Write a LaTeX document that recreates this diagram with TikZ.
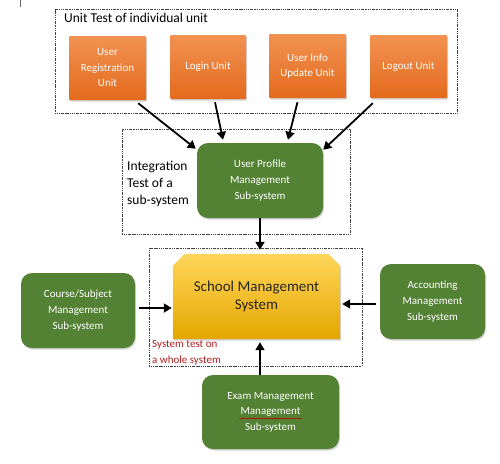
\documentclass[tikz,border=0pt]{standalone}
\usepackage{fontspec}
\setmainfont{Carlito}
\usetikzlibrary{shadows,calc,arrows.meta,decorations.pathmorphing,backgrounds}
\definecolor{grn}{RGB}{84,130,53}
\definecolor{orT}{RGB}{242,146,82}
\definecolor{orB}{RGB}{228,106,28}
\definecolor{yeT}{RGB}{255,214,90}
\definecolor{yeM}{RGB}{255,192,0}
\definecolor{yeB}{RGB}{228,166,0}
\definecolor{redtxt}{RGB}{175,32,32}
\begin{document}
\begin{tikzpicture}[x=1pt,y=-1pt,
  frame/.style={draw=black!75, line width=0.6pt, dash pattern=on 1.4pt off 0.9pt on 0.5pt off 0.9pt, minimum width=#1},
  unitbox/.style={rounded corners=1pt, top color=orT, bottom color=orB, draw=none,
     text=white, align=center, font=\fontsize{11}{15.5}\selectfont, inner sep=0pt,
     minimum width=77pt, minimum height=64pt,
     drop shadow={opacity=0.35, shadow xshift=1pt, shadow yshift=-1.5pt}},
  subbox/.style={rounded corners=11pt, fill=grn, draw=none,
     text=white, align=center, font=\fontsize{11}{16}\selectfont, inner sep=0pt,
     drop shadow={opacity=0.35, shadow xshift=1pt, shadow yshift=-1.5pt}},
  arr/.style={line width=1.8pt, -{Triangle[length=8pt,width=9pt]}}]
\useasboundingbox (0,0) rectangle (500,463);
\draw[black!60, line width=0.6pt] (20,0) -- (20,7);

% frames
\node[frame=402pt, minimum height=104pt] (f1) at (256,61) {};
\node[frame=228pt, minimum height=105pt] (f2) at (236,181.5) {};
\node[frame=213pt, minimum height=118pt] (f3) at (255.5,307) {};

% labels
\node[anchor=west, inner sep=0pt, font=\fontsize{13.5}{16}\selectfont] (t1) at (64,18) {Unit Test of individual unit};
\node[anchor=west, inner sep=0pt, align=left, font=\fontsize{13.5}{17}\selectfont] (t2) at (127,184) {Integration\\Test of a\\sub-system};
\node[anchor=west, inner sep=0pt, align=left, text=redtxt, font=\fontsize{11}{16}\selectfont] (t3) at (152,353) {System test on\\a whole system};

% unit boxes
\node[unitbox] (o1) at (107.5,68) {User\\Registration\\Unit};
\node[unitbox, minimum width=76pt] (o2) at (208,67) {Login Unit};
\node[unitbox] (o3) at (307.5,66) {User Info\\Update Unit};
\node[unitbox, minimum height=63pt] (o4) at (408.5,66.5) {Logout Unit};

% sub-systems
\node[subbox, minimum width=126pt, minimum height=75pt] (up) at (260,180.5) {User Profile\\Management\\Sub-system};
\node[subbox, minimum width=114pt, minimum height=75pt] (course) at (78,310.5) {Course/Subject\\Management\\Sub-system};
\node[subbox, minimum width=105pt, minimum height=75pt] (acct) at (432.5,301.5) {Accounting\\Management\\Sub-system};
\node[subbox, minimum width=137pt, minimum height=74pt, font=\fontsize{11}{15.5}\selectfont] (exam) at (270.5,412) {Exam Management\\Management\\Sub-system};

% school management system
\node[inner sep=0pt, minimum width=167pt, minimum height=85pt, align=center,
  text=black!85, font=\fontsize{15}{18}\selectfont] (sms) at (256.5,296.5) {School Management\\System};
\begin{scope}[on background layer]
\fill[white] (0,0) rectangle (500,463);
\path[top color=yeT, middle color=yeM, bottom color=yeB,
  drop shadow={opacity=0.35, shadow xshift=1pt, shadow yshift=-1.5pt}]
  (sms.south west) -- ([yshift=-12pt]sms.north west) -- ([xshift=12pt]sms.north west)
  -- ([xshift=-12pt]sms.north east) -- ([yshift=-12pt]sms.north east) -- (sms.south east) -- cycle;
\end{scope}

% spell-check underline
\draw[red!75!black, line width=0.5pt, decorate, decoration={snake, amplitude=0.6pt, segment length=2.6pt}]
  ($(exam.center)+(-31,6.5)$) -- ($(exam.center)+(31,6.5)$);

% arrows
\draw[arr] ([xshift=-8pt,yshift=-3pt]o1.south east) -- ([xshift=-1pt,yshift=-6pt]up.north west);
\draw[arr] ([xshift=7pt,yshift=-3pt]o2.south) -- ([xshift=-37pt,yshift=3pt]up.north);
\draw[arr] ([xshift=-10pt,yshift=-4pt]o3.south) -- ([xshift=28pt,yshift=3pt]up.north);
\draw[arr] ([xshift=3pt,yshift=-5pt]o4.south west) -- ([yshift=-7pt]up.north east);
\coordinate (c5) at (up.south);
\draw[arr, shorten >=4pt] (c5) -- (c5 |- sms.north);
\coordinate (c6) at ([xshift=4pt,yshift=2.5pt]course.east);
\draw[arr, shorten >=1pt] (c6) -- (c6 -| sms.west);
\coordinate (c7) at ([xshift=-4pt,yshift=-2.5pt]acct.west);
\draw[arr, shorten >=2pt] (c7) -- (c7 -| sms.east);
\coordinate (c8) at ([xshift=-10.5pt]exam.north);
\draw[arr, shorten >=3pt] (c8) -- (c8 |- sms.south);
\end{tikzpicture}
\end{document}
